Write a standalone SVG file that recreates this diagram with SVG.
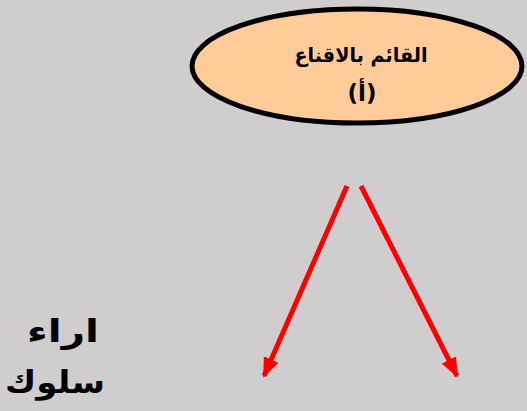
<svg xmlns="http://www.w3.org/2000/svg" width="527" height="411" viewBox="0 0 527 411">
<style>
.lbl{font-family:"DejaVu Sans","Liberation Sans",sans-serif;font-weight:bold;fill:#000;text-anchor:middle}
.arr{stroke:#ff0000;stroke-width:5;fill:none;marker-end:url(#ah)}
</style>
<defs>
<marker id="ah" markerUnits="userSpaceOnUse" markerWidth="20" markerHeight="20" viewBox="0 0 20 20" refX="18" refY="10" orient="auto">
<path d="M0,2 L20,10 L0,18 Z" fill="#ff0000"/>
</marker>
</defs>
<rect width="527" height="411" fill="#d0cdce"/>
<g id="node-persuader">
<ellipse cx="357" cy="66" rx="165" ry="57" fill="#ffcc99" stroke="#000" stroke-width="5"/>
<text class="lbl" x="361" y="62" font-size="20" direction="rtl" textLength="133" lengthAdjust="spacingAndGlyphs">القائم بالاقناع</text>
<text class="lbl" x="362" y="101" font-size="23">(أ)</text>
</g>
<g id="node-opinions">
<text class="lbl" x="63" y="342" font-size="31" direction="rtl" textLength="72" lengthAdjust="spacingAndGlyphs">اراء</text>
<text class="lbl" x="55" y="393" font-size="31" direction="rtl" textLength="100" lengthAdjust="spacingAndGlyphs">سلوك</text>
</g>
<g id="connectors">
<line class="arr" x1="347" y1="186" x2="264" y2="376"/>
<line class="arr" x1="361" y1="186" x2="457" y2="376"/>
</g>
</svg>
